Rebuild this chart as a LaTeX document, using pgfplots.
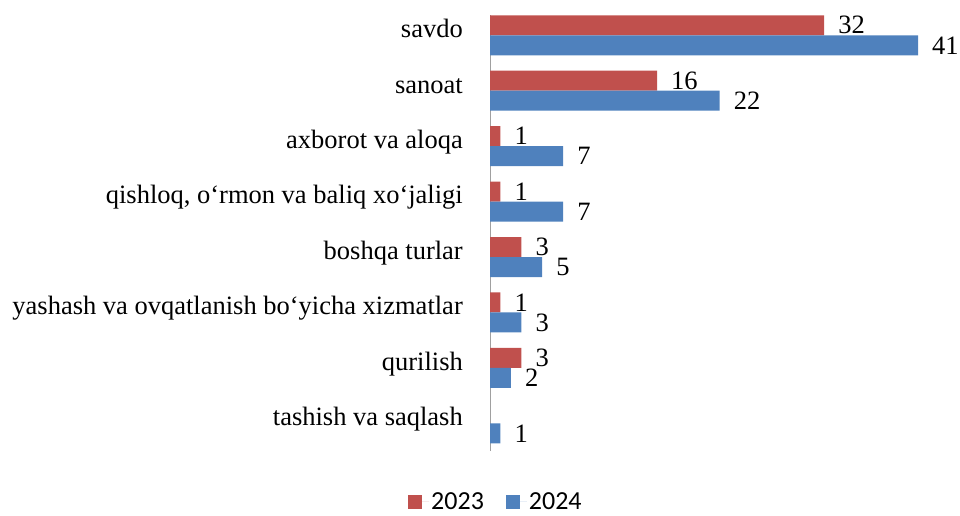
\documentclass[border=0pt]{standalone}
\usepackage{fontspec}
\setmainfont{Liberation Serif}
\newfontfamily\legfont{Carlito}
\usepackage{pgfplots}
\pgfplotsset{compat=1.18}
\definecolor{cred}{HTML}{C0504D}
\definecolor{cblue}{HTML}{4F81BD}
\definecolor{axgray}{HTML}{A0A0A0}
\newcommand{\lblfont}{\fontsize{26.5pt}{30pt}\selectfont}
\begin{document}
\begin{tikzpicture}
\useasboundingbox (0,0) rectangle (960pt,515pt);
\begin{axis}[
  at={(490pt,64pt)}, anchor=south west,
  scale only axis,
  width=469.8pt, height=436.2pt,
  xmin=0, xmax=45,
  ymin=-0.5, ymax=7.37,
  xbar, bar width=20pt,
  /pgf/number format/assume math mode=true,
  axis lines*=left,
  x axis line style={draw=none},
  y axis line style={draw=axgray, line width=1pt},
  xtick=\empty,
  ytick={0,1,2,3,4,5,6,7},
  yticklabels={tashish va saqlash, qurilish, yashash va ovqatlanish bo‘yicha xizmatlar, boshqa turlar, {qishloq, o‘rmon va baliq xo‘jaligi}, axborot va aloqa, sanoat, savdo},
  major tick length=0pt,
  yticklabel style={font=\lblfont, anchor=east, inner sep=0pt, xshift=-27pt, text height=0.68em, text depth=0.22em},
  nodes near coords,
  every node near coord/.append style={font=\lblfont, anchor=west, inner sep=0pt, xshift=14pt},
  legend columns=2,
  legend style={draw=none, fill=none, at={(0.0126,-0.116)}, anchor=center, font=\legfont\fontsize{26pt}{28pt}\selectfont,
    inner sep=1pt,
    /tikz/every even column/.append style={column sep=20pt}},
  legend image code/.code={\path (0pt,0pt) -- (21pt,0pt); \fill[#1] (0pt,-7pt) rectangle (14pt,7pt);},
  clip=false,
]
\addplot[fill=cred, draw=none, bar shift=10pt] coordinates {
  (32,7) (16,6) (1,5) (1,4) (3,3) (1,2) (3,1)
};
\addplot[fill=cblue, draw=none, bar shift=-10pt] coordinates {
  (41,7) (22,6) (7,5) (7,4) (5,3) (3,2) (2,1) (1,0)
};
\legend{2023, 2024}
\end{axis}
\end{tikzpicture}
\end{document}
